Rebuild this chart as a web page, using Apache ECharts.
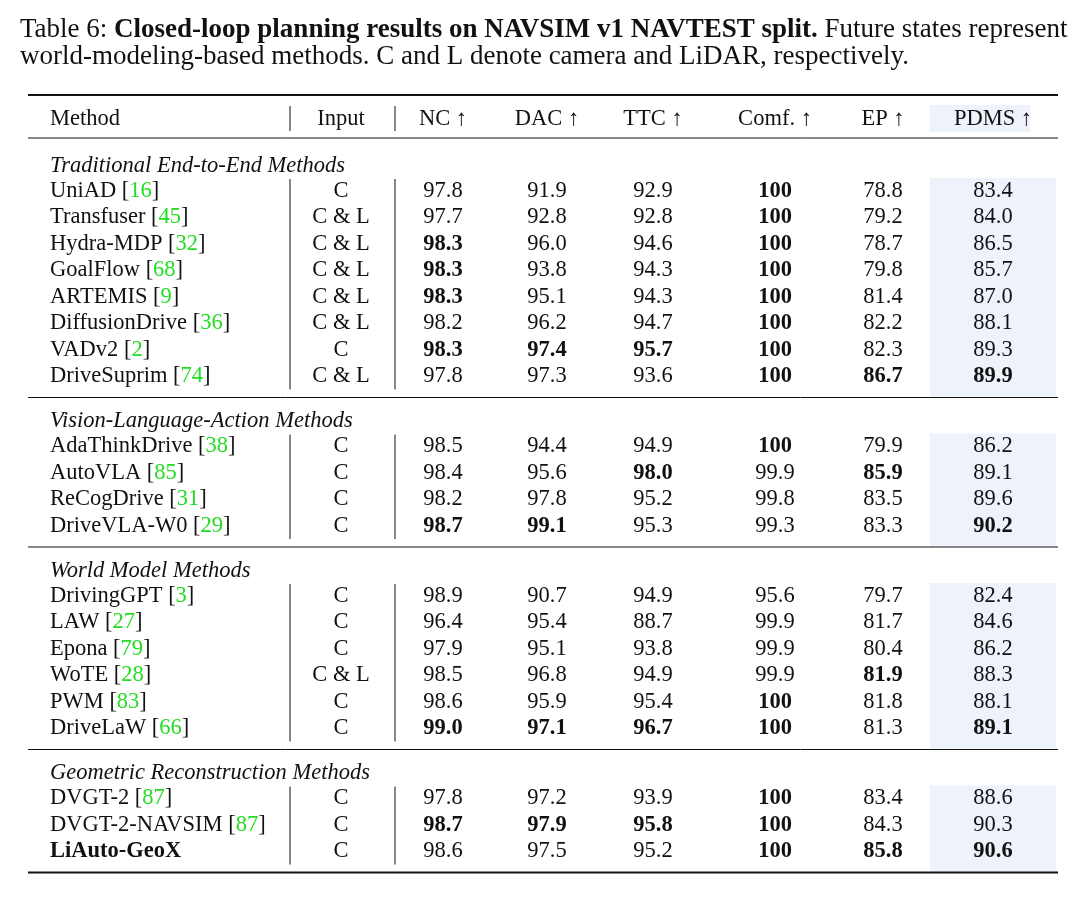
<!DOCTYPE html>
<html lang="en">
<head>
<meta charset="UTF-8">
<title>Table 6</title>
<style>
  html, body { margin: 0; padding: 0; background: #fff; }
  #main { width: 1080px; height: 900px; }
</style>
<script src="https://cdn.jsdelivr.net/npm/echarts@6/dist/echarts.min.js"></script>
</head>
<body>
<div id="main"></div>
<script>
var headers = ['Method', 'Input', 'NC \u2191', 'DAC \u2191', 'TTC \u2191', 'Comf. \u2191', 'EP \u2191', 'PDMS \u2191'];
var sections = ['Traditional End-to-End Methods', 'Vision-Language-Action Methods', 'World Model Methods', 'Geometric Reconstruction Methods'];

// [name, citation, input, NC, DAC, TTC, Comf, EP, PDMS, bold flags]
var traditionalRows = [
  ['UniAD', '16', 'C', '97.8', '91.9', '92.9', '100', '78.8', '83.4', '000100'],
  ['Transfuser', '45', 'C & L', '97.7', '92.8', '92.8', '100', '79.2', '84.0', '000100'],
  ['Hydra-MDP', '32', 'C & L', '98.3', '96.0', '94.6', '100', '78.7', '86.5', '100100'],
  ['GoalFlow', '68', 'C & L', '98.3', '93.8', '94.3', '100', '79.8', '85.7', '100100'],
  ['ARTEMIS', '9', 'C & L', '98.3', '95.1', '94.3', '100', '81.4', '87.0', '100100'],
  ['DiffusionDrive', '36', 'C & L', '98.2', '96.2', '94.7', '100', '82.2', '88.1', '000100'],
  ['VADv2', '2', 'C', '98.3', '97.4', '95.7', '100', '82.3', '89.3', '111100'],
  ['DriveSuprim', '74', 'C & L', '97.8', '97.3', '93.6', '100', '86.7', '89.9', '000111']
];
var vlaRows = [
  ['AdaThinkDrive', '38', 'C', '98.5', '94.4', '94.9', '100', '79.9', '86.2', '000100'],
  ['AutoVLA', '85', 'C', '98.4', '95.6', '98.0', '99.9', '85.9', '89.1', '001010'],
  ['ReCogDrive', '31', 'C', '98.2', '97.8', '95.2', '99.8', '83.5', '89.6', '000000'],
  ['DriveVLA-W0', '29', 'C', '98.7', '99.1', '95.3', '99.3', '83.3', '90.2', '110001']
];
var worldRows = [
  ['DrivingGPT', '3', 'C', '98.9', '90.7', '94.9', '95.6', '79.7', '82.4', '000000'],
  ['LAW', '27', 'C', '96.4', '95.4', '88.7', '99.9', '81.7', '84.6', '000000'],
  ['Epona', '79', 'C', '97.9', '95.1', '93.8', '99.9', '80.4', '86.2', '000000'],
  ['WoTE', '28', 'C & L', '98.5', '96.8', '94.9', '99.9', '81.9', '88.3', '000010'],
  ['PWM', '83', 'C', '98.6', '95.9', '95.4', '100', '81.8', '88.1', '000100'],
  ['DriveLaW', '66', 'C', '99.0', '97.1', '96.7', '100', '81.3', '89.1', '111101']
];
var geoRows = [
  ['DVGT-2', '87', 'C', '97.8', '97.2', '93.9', '100', '83.4', '88.6', '000100'],
  ['DVGT-2-NAVSIM', '87', 'C', '98.7', '97.9', '95.8', '100', '84.3', '90.3', '111100'],
  ['LiAuto-GeoX', '', 'C', '98.6', '97.5', '95.2', '100', '85.8', '90.6', '000111']
];
var allRows = [traditionalRows, vlaRows, worldRows, geoRows];

var FONT = '"Liberation Serif", "DejaVu Serif", serif';
var FS = 22.5;
var CFS = 27;
var colX = [50, 341, 443, 547, 653, 775, 883, 993];
var sepX = [290, 395];
var left = 28, right = 1058;
var shadeL = 930, shadeR = 1056;
var step = 26.5;

var g = [];
function text(x, y, t, opt) {
  opt = opt || {};
  g.push({
    type: 'text', x: x, y: y, z: 10,
    style: {
      text: t, fill: '#111', font: (opt.italic ? 'italic ' : '') + (opt.bold ? 'bold ' : '') + (opt.size || FS) + 'px ' + FONT,
      align: opt.align || 'center', verticalAlign: 'middle', rich: opt.rich
    }
  });
}
function hline(y, w) {
  g.push({ type: 'line', z: 5, shape: { x1: left, y1: y, x2: right, y2: y }, style: { stroke: '#111', lineWidth: w } });
}
function vline(x, y1, y2) {
  g.push({ type: 'line', z: 5, shape: { x1: x, y1: y1, x2: x, y2: y2 }, style: { stroke: '#111', lineWidth: 1 } });
}
function rect(x1, y1, x2, y2) {
  g.push({ type: 'rect', z: 1, shape: { x: x1, y: y1, width: x2 - x1, height: y2 - y1 }, style: { fill: '#edf2fb' } });
}

// caption
var capRich = {
  n: { font: CFS + 'px ' + FONT, fill: '#111' },
  b: { font: 'bold ' + CFS + 'px ' + FONT, fill: '#111' }
};
text(20, 30, '{n|Table 6: }{b|Closed-loop planning results on NAVSIM v1 NAVTEST split.}{n| Future states represent}', { align: 'left', rich: capRich });
text(20, 57, '{n|world-modeling-based methods. C and L denote camera and LiDAR, respectively.}', { align: 'left', rich: capRich });

// header
hline(95, 2);
rect(shadeL, 105, 1030, 132);
headers.forEach(function (h, i) { text(colX[i], 119, h, { align: i === 0 ? 'left' : 'center' }); });
sepX.forEach(function (x) { vline(x, 106, 131); });
hline(138, 1);

var y = 166;
allRows.forEach(function (rows, s) {
  text(50, y, sections[s], { align: 'left', italic: true });
  var first = y + 25;
  var last = first + step * (rows.length - 1);
  var ruleY = last + 21;
  rect(shadeL, first - 13, shadeR, ruleY - 1);
  sepX.forEach(function (x) { vline(x, first - 12, last + 13); });
  rows.forEach(function (r, k) {
    var ry = first + step * k;
    var nameBold = r[1] === '';
    var rich = {
      n: { font: (nameBold ? 'bold ' : '') + FS + 'px ' + FONT, fill: '#111' },
      c: { font: FS + 'px ' + FONT, fill: '#22dd22' }
    };
    text(colX[0], ry, r[1] ? '{n|' + r[0] + ' [}{c|' + r[1] + '}{n|]}' : '{n|' + r[0] + '}', { align: 'left', rich: rich });
    text(colX[1], ry, r[2]);
    for (var j = 0; j < 6; j++) {
      text(colX[2 + j], ry, r[3 + j], { bold: r[9].charAt(j) === '1' });
    }
  });
  hline(ruleY, s === allRows.length - 1 ? 2 : 1);
  y = ruleY + 24;
});

var chart = echarts.init(document.getElementById('main'));
chart.setOption({ backgroundColor: '#fff', graphic: { elements: g } });
</script>
</body>
</html>
